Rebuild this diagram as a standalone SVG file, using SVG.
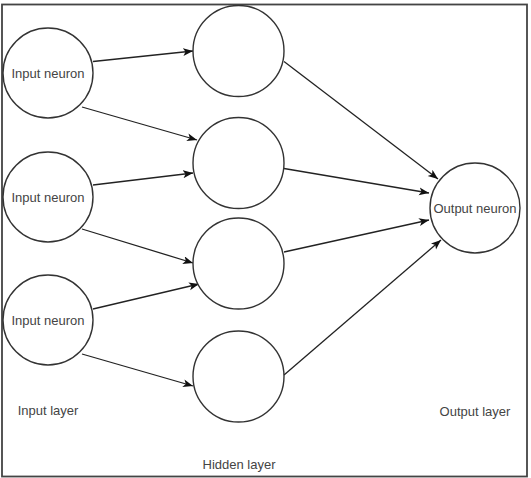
<svg xmlns="http://www.w3.org/2000/svg" width="531" height="478" viewBox="0 0 531 478">
<style>
.n{fill:#fff;stroke:#333;stroke-width:1.4}
.t{font-family:"Liberation Sans",Arial,sans-serif;font-size:13px;fill:#444;text-anchor:middle}
.c{stroke:#222;stroke-width:1.3;fill:none;marker-end:url(#a)}
</style>
<defs>
<marker id="a" markerUnits="userSpaceOnUse" markerWidth="12" markerHeight="10" refX="10" refY="4" orient="auto" viewBox="0 0 12 10">
<path d="M0,0 L10,4 L0,8 L2.5,4 z" fill="#111"/>
</marker>
</defs>
<rect x="2" y="4.5" width="525" height="472" fill="#fff" stroke="#444" stroke-width="1.8"/>
<g id="connectors">
<line class="c" x1="93" y1="61.5" x2="193" y2="51"/>
<line class="c" x1="82" y1="107" x2="197" y2="140"/>
<line class="c" x1="93" y1="185" x2="193" y2="173"/>
<line class="c" x1="82" y1="229" x2="193" y2="263"/>
<line class="c" x1="93" y1="309" x2="199" y2="284"/>
<line class="c" x1="82" y1="354" x2="193" y2="386"/>
<line class="c" x1="284" y1="61.5" x2="438" y2="179"/>
<line class="c" x1="284" y1="168.5" x2="429" y2="193"/>
<line class="c" x1="284" y1="252" x2="429" y2="220"/>
<line class="c" x1="284" y1="375" x2="441" y2="240"/>
</g>
<g id="in1"><circle class="n" cx="48" cy="73" r="45"/><text class="t" x="48" y="77.5">Input neuron</text></g>
<g id="in2"><circle class="n" cx="48" cy="197" r="45"/><text class="t" x="48" y="201.5">Input neuron</text></g>
<g id="in3"><circle class="n" cx="48" cy="320" r="45"/><text class="t" x="48" y="324.5">Input neuron</text></g>
<g id="h1"><circle class="n" cx="238.5" cy="51" r="45.5"/></g>
<g id="h2"><circle class="n" cx="238.5" cy="163" r="45.5"/></g>
<g id="h3"><circle class="n" cx="238.5" cy="263.5" r="45.5"/></g>
<g id="h4"><circle class="n" cx="238.5" cy="376.5" r="45.5"/></g>
<g id="out"><circle class="n" cx="475" cy="208" r="45"/><text class="t" x="475" y="213">Output neuron</text></g>
<g id="labels">
<text class="t" x="48" y="415">Input layer</text>
<text class="t" x="239" y="469">Hidden layer</text>
<text class="t" x="475" y="415.5">Output layer</text>
</g>
</svg>
